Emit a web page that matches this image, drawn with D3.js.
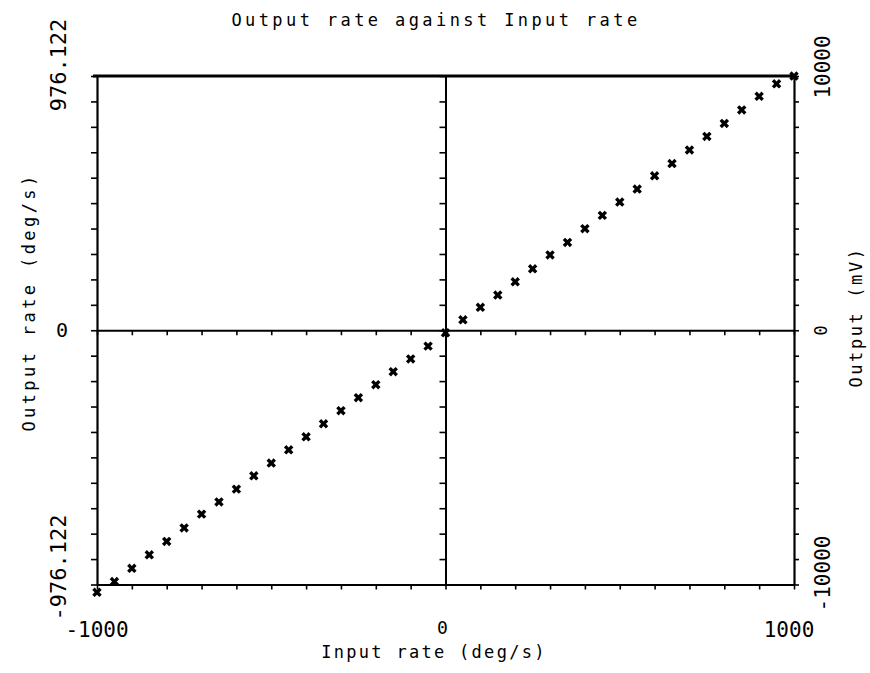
<!DOCTYPE html>
<html>
<head>
<meta charset="utf-8">
<script src="https://cdn.jsdelivr.net/npm/d3@7"></script>
<style>
  html, body { margin: 0; padding: 0; background: #fff; }
  svg { display: block; }
  text { font-family: "DejaVu Sans Mono", "Liberation Mono", monospace; fill: #000; }
</style>
</head>
<body>
<svg id="chart" width="870" height="673"></svg>
<script>
// Input rate (deg/s) applied to the sensor
const inputRate = [-1000, -950, -900, -850, -800, -750, -700, -650, -600, -550,
                   -500, -450, -400, -350, -300, -250, -200, -150, -100, -50,
                   0, 50, 100, 150, 200, 250, 300, 350, 400, 450,
                   500, 550, 600, 650, 700, 750, 800, 850, 900, 950, 1000];
// Measured output rate (deg/s)
const outputRate = [-1006, -965, -914, -862, -811, -759, -706, -659, -610, -559,
                    -510, -459, -409, -359, -309, -259, -209, -159, -110, -61,
                    -10, 40, 88, 135, 186, 236, 289, 337, 390, 441,
                    492, 542, 593, 640, 692, 744, 794, 846, 898, 946, 976];

const xDomain = [-1000, 1000];
const rateDomain = [-976.122, 976.122];
const mvDomain = [-10000, 10000];
const xTickLabels = ["-1000", "0", "1000"];
const rateTickLabels = ["-976.122", "0", "976.122"];
const mvTickLabels = ["-10000", "0", "10000"];

(function draw() {
  const svg = d3.select("#chart");
  const pLeft = 97, pRight = 794, pTop = 76, pBottom = 584.5;

  const x = d3.scaleLinear().domain(xDomain).range([pLeft, pRight]);
  const yRate = d3.scaleLinear().domain(rateDomain).range([pBottom, pTop]);
  const yMv = d3.scaleLinear().domain(mvDomain).range([pBottom, pTop]);

  const rateTicks = d3.range(-10, 11).map(i => i * rateDomain[1] / 10);
  const xTicks = d3.range(-1000, 1001, 100);
  const mvTicks = d3.range(-10000, 10001, 1000);

  function styleAxis(g, w) {
    g.selectAll("path.domain").attr("stroke", "#000").attr("stroke-width", w);
    g.selectAll(".tick line").attr("stroke", "#000").attr("stroke-width", 1.6);
  }

  // Left axis (output rate)
  svg.append("g").attr("transform", `translate(${pLeft},0)`)
    .call(d3.axisLeft(yRate).tickValues(rateTicks).tickSize(6).tickSizeOuter(0).tickFormat(""))
    .call(g => styleAxis(g, 2.2));

  // Right axis (output voltage)
  svg.append("g").attr("transform", `translate(${pRight},0)`)
    .call(d3.axisRight(yMv).tickValues(mvTicks).tickSize(5).tickSizeOuter(0).tickFormat(""))
    .call(g => styleAxis(g, 2.2));

  // Bottom axis
  svg.append("g").attr("transform", `translate(0,${pBottom})`)
    .call(d3.axisBottom(x).tickValues(xTicks).tickSize(5).tickSizeOuter(0).tickFormat(""))
    .call(g => styleAxis(g, 2.2));

  // Top frame line
  svg.append("line")
    .attr("x1", pLeft - 4).attr("x2", pRight).attr("y1", pTop).attr("y2", pTop)
    .attr("stroke", "#000").attr("stroke-width", 3);

  // Zero cross-hair lines with their own ticks
  svg.append("g").attr("transform", `translate(${x(0)},0)`)
    .call(d3.axisLeft(yRate).tickValues(rateTicks).tickSize(6).tickSizeOuter(0).tickFormat(""))
    .call(g => styleAxis(g, 2));
  svg.append("g").attr("transform", `translate(0,${yRate(0)})`)
    .call(d3.axisBottom(x).tickValues(xTicks).tickSize(5).tickSizeOuter(0).tickFormat(""))
    .call(g => styleAxis(g, 2));

  // Data markers
  const marker = d3.symbol().type(d3.symbolCross).size(56);
  svg.append("g").selectAll("path")
    .data(inputRate.map((v, i) => [v, outputRate[i]]))
    .join("path")
    .attr("d", marker)
    .attr("transform", d => `translate(${x(d[0])},${yRate(d[1])}) rotate(45)`)
    .attr("fill", "#000");

  // Tick labels: x axis
  const xLabelVals = [-1000, 0, 1000];
  const xLabelShift = [0, -3, -5];
  svg.append("g").selectAll("text")
    .data(xLabelVals)
    .join("text")
    .attr("x", (d, i) => x(d) + xLabelShift[i])
    .attr("y", d => d === 0 ? 634 : 637)
    .attr("text-anchor", "middle")
    .attr("font-size", d => d === 0 ? 18 : 21)
    .text((d, i) => xTickLabels[i]);

  // Tick labels: output rate (rotated)
  const rateLabelPos = [
    { v: -976.122, dy: -17 },
    { v: 0, dy: 0 },
    { v: 976.122, dy: -11 }
  ];
  svg.append("g").selectAll("text")
    .data(rateLabelPos)
    .join("text")
    .attr("transform", d => d.v === 0
        ? `translate(62,${yRate(0) + 7})`
        : `translate(66,${yRate(d.v) + d.dy}) rotate(-90)`)
    .attr("text-anchor", "middle")
    .attr("font-size", d => d.v === 0 ? 20 : 22)
    .text((d, i) => rateTickLabels[i]);

  // Tick labels: output voltage (rotated)
  const mvLabelPos = [
    { v: -10000, dy: -11 },
    { v: 0, dy: 0 },
    { v: 10000, dy: -9 }
  ];
  svg.append("g").selectAll("text")
    .data(mvLabelPos)
    .join("text")
    .attr("transform", d => `translate(${d.v === 0 ? 827 : 830},${yMv(d.v) + d.dy}) rotate(-90)`)
    .attr("text-anchor", "middle")
    .attr("font-size", d => d.v === 0 ? 17 : 21)
    .text((d, i) => mvTickLabels[i]);

  // Titles
  svg.append("text")
    .attr("x", 436).attr("y", 26)
    .attr("text-anchor", "middle")
    .attr("font-size", 17)
    .attr("letter-spacing", 3.4)
    .text("Output rate against Input rate");

  svg.append("text")
    .attr("x", 434).attr("y", 658)
    .attr("text-anchor", "middle")
    .attr("font-size", 17)
    .attr("letter-spacing", 2.3)
    .text("Input rate (deg/s)");

  svg.append("text")
    .attr("transform", "translate(35,302) rotate(-90)")
    .attr("text-anchor", "middle")
    .attr("font-size", 17)
    .attr("letter-spacing", 3.4)
    .text("Output rate (deg/s)");

  svg.append("text")
    .attr("transform", "translate(862,317) rotate(-90)")
    .attr("text-anchor", "middle")
    .attr("font-size", 17)
    .attr("letter-spacing", 2.6)
    .text("Output (mV)");
})();
</script>
</body>
</html>
